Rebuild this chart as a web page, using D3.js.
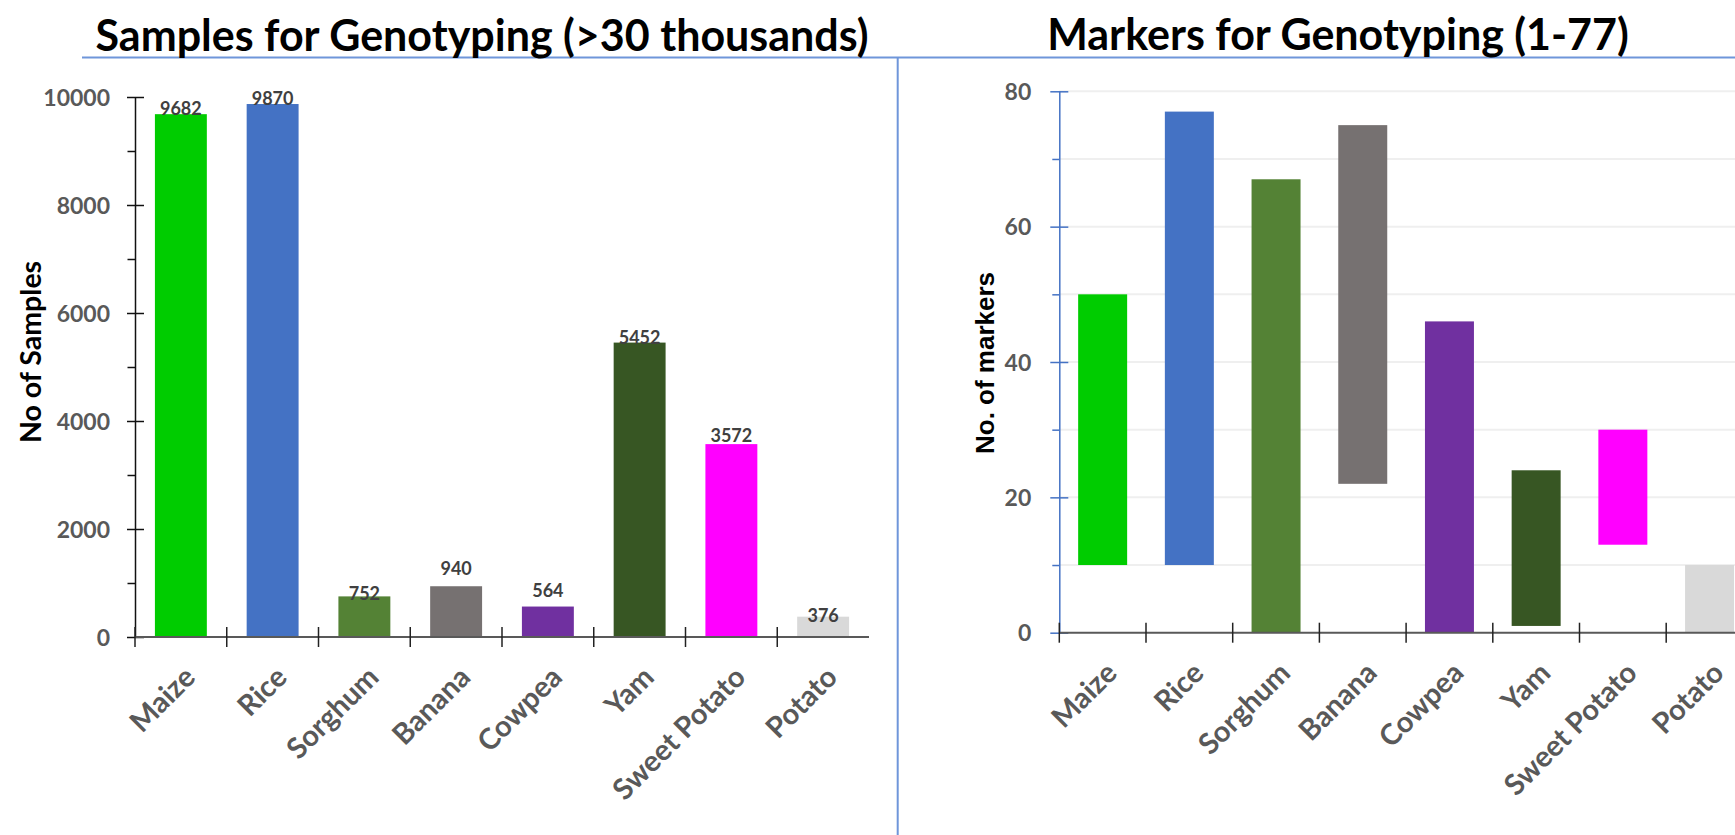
<!DOCTYPE html>
<html>
<head>
<meta charset="utf-8">
<script src="https://cdn.jsdelivr.net/npm/d3@7"></script>
<style>
  html, body { margin: 0; padding: 0; background: #ffffff; }
  svg { display: block; }
  .tick-label { font-family: Lato, "Open Sans", sans-serif; font-weight: 700; fill: #595959; }
</style>
</head>
<body>
<svg id="chart" width="1735" height="835"></svg>
<script>
// Crops and their bar colours
const crops = ["Maize", "Rice", "Sorghum", "Banana", "Cowpea", "Yam", "Sweet Potato", "Potato"];
const cropColors = ["#00CC00", "#4472C4", "#548235", "#767171", "#7030A0", "#375623", "#FF00FF", "#D9D9D9"];

// Samples genotyped per crop
const sampleCounts = [9682, 9870, 752, 940, 564, 5452, 3572, 376];

// Marker count range per crop (floating bars from min to max)
const markerMin = [10, 10, 0, 22, 0, 1, 13, 0];
const markerMax = [50, 77, 67, 75, 46, 24, 30, 10];

// Axis tick values
const sampleTicks = [0, 2000, 4000, 6000, 8000, 10000];
const sampleMinorTicks = [1000, 3000, 5000, 7000, 9000];
const markerTicks = [0, 20, 40, 60, 80];
const markerMinorTicks = [10, 30, 50, 70];
const markerGrid = [10, 20, 30, 40, 50, 60, 70, 80];

// Hand-placed vertical nudges of the value labels (px, + = down from bar top)
const sampleLabelShift = [1, 1, 3.5, -11, -10, 1, -2.5, 5];

const svg = d3.select("#chart");
const W = 1735, H = 835;
const frameColor = "#6F96DA";

// Panel frame: rule under the titles and the divider between the panels
svg.append("line").attr("x1", 82).attr("x2", W).attr("y1", 57.5).attr("y2", 57.5)
  .attr("stroke", frameColor).attr("stroke-width", 2);
svg.append("line").attr("x1", 897.7).attr("x2", 897.7).attr("y1", 57.5).attr("y2", H)
  .attr("stroke", frameColor).attr("stroke-width", 2);

// Titles
svg.append("text").attr("x", 482).attr("y", 51).attr("text-anchor", "middle")
  .style("font-family", "Lato, 'Open Sans', sans-serif").style("font-weight", 700)
  .style("font-size", "43px").attr("fill", "#000")
  .text("Samples for Genotyping (>30 thousands)");
svg.append("text").attr("x", 1338).attr("y", 50).attr("text-anchor", "middle")
  .style("font-family", "Lato, 'Open Sans', sans-serif").style("font-weight", 700)
  .style("font-size", "43px").attr("fill", "#000")
  .text("Markers for Genotyping (1-77)");

function categoryAxis(g, x, baseY, step) {
  // category names, rotated
  const ax = d3.axisBottom(x).tickSize(0).tickSizeOuter(0);
  const ag = g.append("g").attr("transform", `translate(0,${baseY})`).call(ax);
  ag.select(".domain").remove();
  ag.selectAll("text")
    .attr("class", "tick-label")
    .attr("x", 0).attr("y", 0).attr("dy", 0)
    .attr("transform", "translate(16,42) rotate(-45)")
    .style("text-anchor", "end")
    .style("font-size", "29px");
  // tick marks on the category boundaries
  g.append("g").selectAll("line")
    .data(d3.range(crops.length))
    .join("line")
    .attr("x1", i => x.range()[0] + i * step)
    .attr("x2", i => x.range()[0] + i * step)
    .attr("y1", baseY - 10).attr("y2", baseY + 10)
    .attr("stroke", "#222").attr("stroke-width", 1.5);
}

const plainNumber = d3.format("d");

// ---------- Left panel: samples ----------
{
  const g = svg.append("g");
  const x = d3.scaleBand().domain(crops).range([135, 869]).paddingInner(0.434).paddingOuter(0.217);
  const y = d3.scaleLinear().domain([0, 10000]).range([637, 97]);

  // bars
  g.append("g").selectAll("rect")
    .data(crops)
    .join("rect")
    .attr("x", d => x(d))
    .attr("width", x.bandwidth())
    .attr("y", (d, i) => y(sampleCounts[i]))
    .attr("height", (d, i) => y(0) - y(sampleCounts[i]))
    .attr("fill", (d, i) => cropColors[i]);

  // value labels
  g.append("g").selectAll("text")
    .data(crops)
    .join("text")
    .attr("x", d => x(d) + x.bandwidth() / 2)
    .attr("y", (d, i) => y(sampleCounts[i]) + sampleLabelShift[i])
    .attr("text-anchor", "middle")
    .style("font-family", "Lato, 'Open Sans', sans-serif").style("font-weight", 700)
    .style("font-size", "18px").attr("fill", "#404040")
    .text((d, i) => sampleCounts[i]);

  // y axis
  const yAxis = g.append("g").attr("transform", "translate(135,0)")
    .call(d3.axisLeft(y).tickValues(sampleTicks).tickFormat(plainNumber)
      .tickSize(8).tickSizeOuter(0).tickPadding(17));
  yAxis.select(".domain").attr("stroke", "#111").attr("stroke-width", 1.5);
  yAxis.selectAll(".tick line").attr("x2", -8).attr("x1", 9).attr("stroke", "#111").attr("stroke-width", 1.5);
  yAxis.selectAll(".tick text").attr("class", "tick-label").style("font-size", "23px").attr("dy", "0.36em");
  const yMinor = g.append("g").attr("transform", "translate(135,0)")
    .call(d3.axisLeft(y).tickValues(sampleMinorTicks).tickSize(7.5).tickFormat(""));
  yMinor.select(".domain").remove();
  yMinor.selectAll(".tick line").attr("stroke", "#111").attr("stroke-width", 1.5);

  // x axis line
  g.append("line").attr("x1", 135).attr("x2", 869).attr("y1", y(0)).attr("y2", y(0))
    .attr("stroke", "#595959").attr("stroke-width", 2);
  categoryAxis(g, x, y(0), x.step());

  // y title
  g.append("text")
    .attr("transform", `translate(41,352) rotate(-90)`)
    .attr("text-anchor", "middle")
    .style("font-family", "Lato, 'Open Sans', sans-serif").style("font-weight", 700)
    .style("font-size", "28.5px").attr("fill", "#000")
    .text("No of Samples");
}

// ---------- Right panel: markers ----------
{
  const g = svg.append("g");
  const step = 86.7;
  const x0 = 1059.3;
  const x = d3.scaleBand().domain(crops).range([x0, x0 + step * crops.length]).paddingInner(0.435).paddingOuter(0.2175);
  const y = d3.scaleLinear().domain([0, 80]).range([632.7, 91.3]);

  // gridlines
  g.append("g").selectAll("line")
    .data(markerGrid)
    .join("line")
    .attr("x1", x0).attr("x2", W)
    .attr("y1", d => y(d)).attr("y2", d => y(d))
    .attr("stroke", "#EFEFEF").attr("stroke-width", 2);

  // floating range bars
  g.append("g").selectAll("rect")
    .data(crops)
    .join("rect")
    .attr("x", d => x(d))
    .attr("width", x.bandwidth())
    .attr("y", (d, i) => y(markerMax[i]))
    .attr("height", (d, i) => y(markerMin[i]) - y(markerMax[i]))
    .attr("fill", (d, i) => cropColors[i]);

  // y axis
  const axisBlue = "#4472C4";
  const yAxis = g.append("g").attr("transform", `translate(${x0},0)`)
    .call(d3.axisLeft(y).tickValues(markerTicks).tickFormat(plainNumber)
      .tickSize(9).tickSizeOuter(0).tickPadding(19));
  yAxis.select(".domain").attr("stroke", axisBlue).attr("stroke-width", 1.5);
  yAxis.selectAll(".tick line").attr("x2", -9).attr("x1", 9).attr("stroke", axisBlue).attr("stroke-width", 1.5);
  yAxis.selectAll(".tick text").attr("class", "tick-label").style("font-size", "23px").attr("dy", "0.36em");
  const yMinor = g.append("g").attr("transform", `translate(${x0},0)`)
    .call(d3.axisLeft(y).tickValues(markerMinorTicks).tickSize(7).tickFormat(""));
  yMinor.select(".domain").remove();
  yMinor.selectAll(".tick line").attr("stroke", axisBlue).attr("stroke-width", 1.5);

  // x axis line
  g.append("line").attr("x1", x0).attr("x2", W).attr("y1", y(0)).attr("y2", y(0))
    .attr("stroke", "#595959").attr("stroke-width", 2);
  categoryAxis(g, x, y(0), step);

  // y title
  g.append("text")
    .attr("transform", `translate(994,363) rotate(-90)`)
    .attr("text-anchor", "middle")
    .style("font-family", "'Liberation Sans', Arial, sans-serif").style("font-weight", 700)
    .style("font-size", "26px").attr("fill", "#000")
    .text("No. of markers");
}
</script>
</body>
</html>
